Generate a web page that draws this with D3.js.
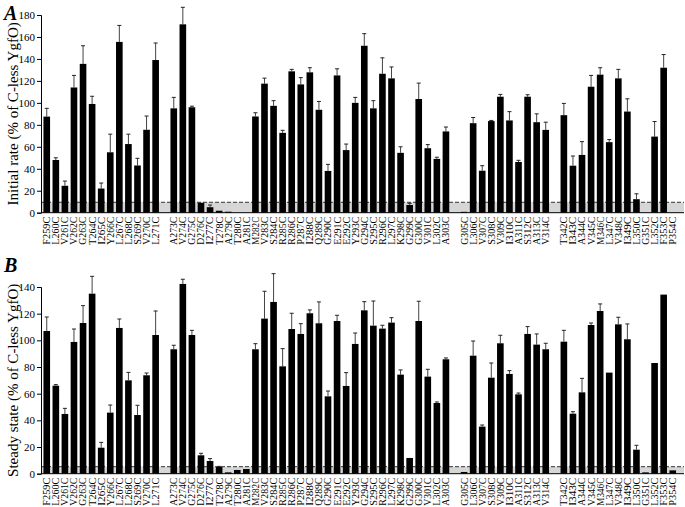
<!DOCTYPE html>
<html>
<head>
<meta charset="utf-8">
<script src="https://cdn.jsdelivr.net/npm/d3@7"></script>
<style>
  body { margin: 0; background: #fff; }
  svg text { font-family: "Liberation Serif", "DejaVu Serif", serif; }
</style>
</head>
<body>
<svg id="chart" width="685" height="507"></svg>
<script>
// mutants, in order along the x axis
var categories = ["F259C","L260C","V261C","V262C","G263C","T264C","I265C","Y266C","L267C","L268C","S269C","V270C","L271C",
  "A273C","V274C","G275C","D276C","I277C","T278C","A279C","T280C","A281C","M282C","V283C","S284C","R285C","R286C","P287C",
  "I288C","Q289C","G290C","E291C","E292C","Y293C","G294C","S295C","R296C","L297C","K298C","G299C","G300C","V301C","L302C","A303C",
  "G305C","L306C","V307C","S308C","V309C","I310C","A311C","S312C","A313C","V314C",
  "T342C","I343C","A344C","V345C","M346C","L347C","V348C","I349C","L350C","G351C","L352C","F353C","P354C"];
// an empty slot follows each of these
var gapAfter = ["L271C","A303C","V314C"];

var initialRate = [87.5,48,24.5,114,135.5,99,22,55,155.5,62.5,43,75.5,139,
  95,171.5,96,9,5,1.8,0.9,0,0,87.6,117.5,97.3,72.7,128.7,116.8,
  127.8,93.7,38,125,57,100,152,95,126.5,122.3,54.5,7,103.5,58.7,49,74,
  0.8,81.5,38.2,83.4,105.6,84,46.2,105.6,82.4,75.4,
  88.8,42.8,52.6,114.7,125.7,64.2,122.3,92.1,12.3,0,69.3,132,0];
var initialRateErr = [95,50,28.8,125,152,106,27,71.5,170.5,71.5,49.5,88,154.5,
  105,187,97,9,7,1.8,0.9,0,0,91,122.5,102,75,130.5,123,
  132,101.3,44,131,62.5,105,163,102,141,132.7,60,8.5,118,62,50.5,78,
  0.8,86.7,42.8,84,107.7,92,47.7,107.4,90,82.4,
  99.5,51.6,64.7,125,132,66.6,130.5,103.7,17.2,0,83,144,0];

var steadyState = [107,66,44.8,98.8,113,135,19.5,45.8,109.3,70,44,73.8,104,
  93.3,142.3,104,13.8,9.5,5,1,2.8,3.5,93.3,116.3,128.8,80.5,108.5,104.8,
  120.3,112.8,58,114.5,65.8,97.3,122.5,111,108.8,113.3,74.3,11.8,114.5,72.8,53,85.8,
  1.3,88.5,35.3,72,97.8,74.8,59.5,104.8,96.8,93.3,
  99,45,61,111.5,122,75.8,112,100.8,18,1,83,134.3,2.5];
var steadyStateErr = [117.5,66.8,49,108.5,126,148,23.5,51.5,116,76,51.3,75.5,122,
  96.3,145.8,107.5,15.3,11.3,5.5,1,2.8,3.5,97.5,136.8,150,93.8,120.3,112.5,
  122.8,128.8,62,118.8,75.8,105.5,129,129.5,111.3,117,77.8,11.8,129.3,78.3,53.8,86.8,
  1.3,99.5,36.5,83,103.8,77.3,60.5,110.3,104.8,97.8,
  107.5,46.5,71.5,113,127.3,75.8,117.3,112.3,21.3,1,83,134.3,2.5];

var ticksA = [0,20,40,60,80,100,120,140,160,180];
var ticksB = [0,20,40,60,80,100,120,140];

var svg = d3.select("#chart");

// slot keys, with blank slots for the gaps
var slots = [];
categories.forEach(function(c) {
  slots.push(c);
  if (gapAfter.indexOf(c) >= 0) slots.push("gap-" + c);
});

var x = d3.scaleBand()
  .domain(slots)
  .range([41, 678.5])
  .padding(0.27);

var drawPanel = function(p) {
  var y = d3.scaleLinear()
    .domain([0, p.max])
    .range([p.bottom, p.top]);
  var g = svg.append("g");
  var rows = categories.map(function(c, i) {
    return { name: c, v: p.values[i], e: p.errs[i] };
  });

  // grey band below the threshold
  g.append("rect")
    .attr("x", 41)
    .attr("y", y(p.threshold))
    .attr("width", 643)
    .attr("height", y(0) - y(p.threshold))
    .attr("fill", "#d6d6d6");

  g.append("line")
    .attr("x1", 41).attr("x2", 684)
    .attr("y1", y(p.threshold)).attr("y2", y(p.threshold))
    .attr("stroke", "#333")
    .attr("stroke-width", 1)
    .attr("stroke-dasharray", "4,2");

  // error bars
  var eb = g.selectAll(".err")
    .data(rows.filter(function(d) { return d.e - d.v > 0.3; }))
    .enter().append("g");
  eb.append("line")
    .attr("x1", function(d) { return x(d.name) + x.bandwidth() / 2; })
    .attr("x2", function(d) { return x(d.name) + x.bandwidth() / 2; })
    .attr("y1", function(d) { return y(d.v); })
    .attr("y2", function(d) { return y(d.e); })
    .attr("stroke", "#444");
  eb.append("line")
    .attr("x1", function(d) { return x(d.name) + x.bandwidth() / 2 - 2; })
    .attr("x2", function(d) { return x(d.name) + x.bandwidth() / 2 + 2; })
    .attr("y1", function(d) { return y(d.e); })
    .attr("y2", function(d) { return y(d.e); })
    .attr("stroke", "#222");

  g.selectAll(".bar")
    .data(rows)
    .enter().append("rect")
    .attr("x", function(d) { return x(d.name); })
    .attr("y", function(d) { return y(d.v); })
    .attr("width", x.bandwidth())
    .attr("height", function(d) { return y(0) - y(d.v); })
    .attr("fill", "#000");

  // axes
  var yAxis = d3.axisLeft(y).tickValues(p.ticks).tickSize(4).tickPadding(2);
  var ya = g.append("g")
    .attr("transform", "translate(41,0)")
    .call(yAxis);
  ya.select(".domain").attr("stroke", "#000");
  ya.selectAll("text").attr("font-size", 11).attr("fill", "#000");

  g.append("line")
    .attr("x1", 41).attr("x2", 684)
    .attr("y1", y(0)).attr("y2", y(0))
    .attr("stroke", "#000");

  g.selectAll(".lab")
    .data(categories)
    .enter().append("text")
    .attr("transform", function(d) {
      return "translate(" + (x(d) + x.bandwidth() / 2) + "," + (p.bottom + 4) + ") rotate(-90)";
    })
    .attr("dy", "0.35em")
    .attr("text-anchor", "end")
    .attr("font-size", 9.8)
    .attr("textLength", 28)
    .attr("lengthAdjust", "spacingAndGlyphs")
    .text(function(d) { return d; });

  g.append("text")
    .attr("transform", "translate(18," + ((p.top + p.bottom) / 2) + ") rotate(-90)")
    .attr("text-anchor", "middle")
    .attr("font-size", 15)
    .text(p.title);

  g.append("text")
    .attr("x", 4)
    .attr("y", p.top + p.letterDy)
    .attr("font-size", 20)
    .attr("font-weight", "bold")
    .attr("font-style", "italic")
    .text(p.letter);
};

drawPanel({ values: initialRate, errs: initialRateErr, max: 180, ticks: ticksA,
  top: 15, bottom: 212.7, threshold: 9.5, title: "Initial rate (% of C-less YgfO)", letter: "A", letterDy: 5 });
drawPanel({ values: steadyState, errs: steadyStateErr, max: 140, ticks: ticksB,
  top: 287, bottom: 473.7, threshold: 5.25, title: "Steady state (% of C-less YgfO)", letter: "B", letterDy: -15 });
</script>
</body>
</html>
